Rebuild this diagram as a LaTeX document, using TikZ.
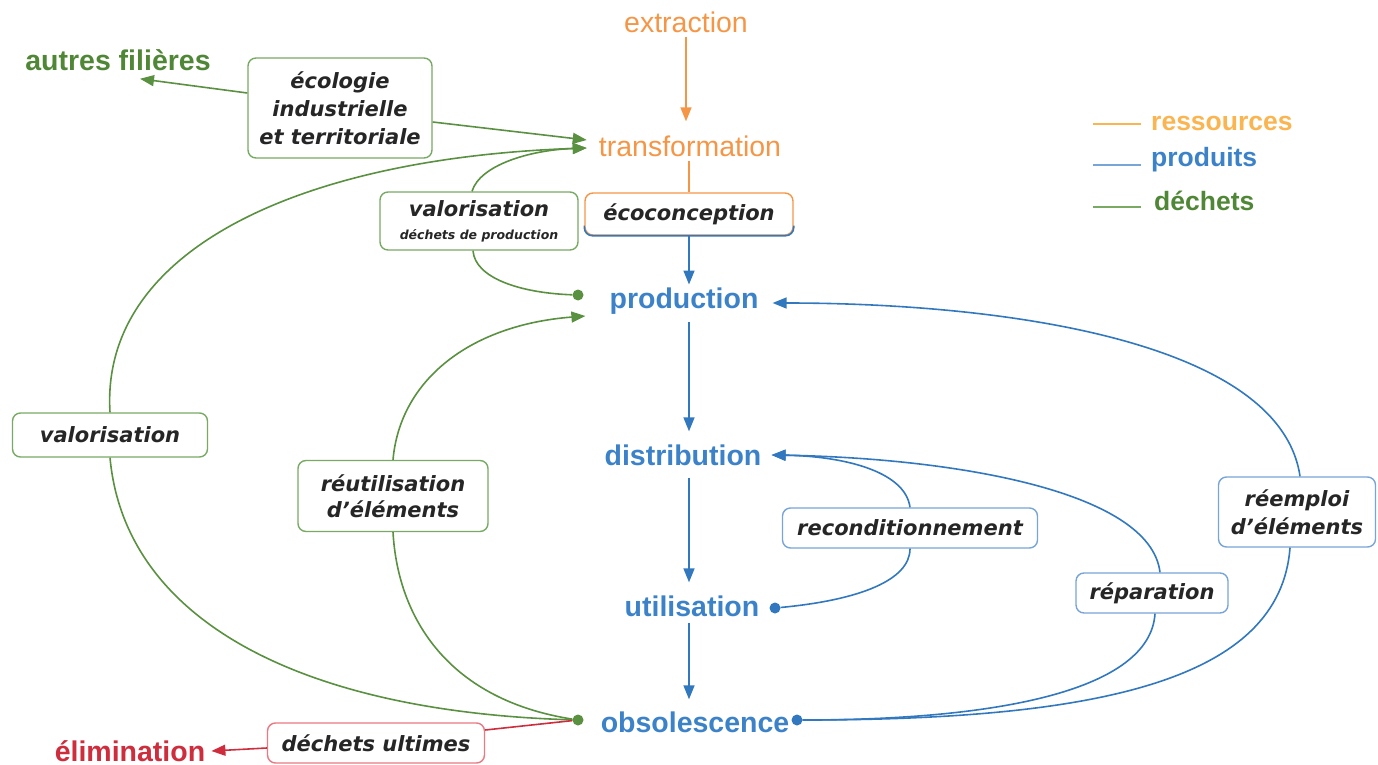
\documentclass[tikz,border=0pt]{standalone}
\usepackage{fontspec}
\setmainfont{Liberation Sans}
\newfontfamily\boxf{DejaVu Sans}
\usetikzlibrary{arrows.meta,calc}
\definecolor{orng}{RGB}{245,150,70}
\definecolor{ressc}{RGB}{250,180,80}
\definecolor{blu}{RGB}{50,120,190}
\definecolor{blutxt}{RGB}{60,130,200}
\definecolor{blubox}{RGB}{120,165,215}
\definecolor{grn}{RGB}{90,145,65}
\definecolor{grntxt}{RGB}{80,135,55}
\definecolor{grnbox}{RGB}{120,170,100}
\definecolor{redc}{RGB}{205,45,60}
\definecolor{redbox}{RGB}{235,120,130}
\begin{document}
\begin{tikzpicture}[x=1pt,y=-1pt,
  lab/.style={inner sep=0pt, font=\fontsize{28.5}{30}\selectfont},
  labb/.style={inner sep=0pt, font=\fontsize{28.5}{30}\selectfont\bfseries},
  leg/.style={inner sep=0pt, anchor=west, font=\fontsize{26.5}{28}\selectfont\bfseries},
  box/.style={draw, rounded corners=8pt, fill=white, line width=1.4pt, align=center, inner sep=0pt, font=\boxf\bfseries\itshape\fontsize{21}{28}\selectfont, text=black!85},
  con/.style={line width=1.6pt},
  tip/.style={-{Triangle[length=14pt,width=11pt]}},
  dot/.style={circle, inner sep=0pt, minimum size=11pt},
]
\useasboundingbox (0,0) rectangle (1378,765);
% main labels
\node[lab, text=orng] (ext) at (686,22) {extraction};
\node[lab, text=orng] (trans) at (690,146) {transformation};
\node[labb, text=blutxt] (prod) at (684,301) {production};
\node[labb, text=blutxt] (dist) at (683,455) {distribution};
\node[labb, text=blutxt] (util) at (692,606) {utilisation};
\node[labb, text=blutxt] (obs) at (695,722) {obsolescence};
\node[labb, text=grntxt] (autres) at (118,60) {autres filières};
\node[labb, text=redc] (elim) at (130,751) {élimination};
% boxes
\node[box, draw=orng, minimum width=208pt, minimum height=42pt] (ecoc) at (689,214) {écoconception};
\node[box, draw=grnbox, minimum width=184pt, minimum height=100pt] (eco) at (340,108) {écologie\\industrielle\\et territoriale};
\node[box, draw=grnbox, minimum width=198pt, minimum height=58pt] (vdp) at (479,221) {valorisation\\[-5pt]{\fontsize{12.5}{14}\selectfont déchets de production}};
\node[box, draw=grnbox, minimum width=195pt, minimum height=44pt] (valo) at (110,435) {valorisation};
\node[box, draw=grnbox, minimum width=190pt, minimum height=71pt, font=\boxf\bfseries\itshape\fontsize{21}{26}\selectfont] (reut) at (393,496) {réutilisation\\d’éléments};
\node[box, draw=blubox, minimum width=255pt, minimum height=40pt] (recon) at (910,528) {reconditionnement};
\node[box, draw=blubox, minimum width=152pt, minimum height=40pt] (repa) at (1152,593) {réparation};
\node[box, draw=blubox, minimum width=157pt, minimum height=70pt] (reem) at (1297,512) {réemploi\\d’éléments};
\node[box, draw=redbox, minimum width=217pt, minimum height=40pt] (ult) at (376,743) {déchets ultimes};
\draw[blu, line width=1.6pt, rounded corners=8pt] ($(ecoc.south west)+(0,-10)$) |- (ecoc.south east) -- ++(0,-10);
% dots
\node[dot, fill=grn] (gd1) at (578,295) {};
\node[dot, fill=grn] (gd2) at (578,720) {};
\node[dot, fill=blu] (bd1) at (775,608) {};
\node[dot, fill=blu] (bd2) at (797,720) {};
% orange
\draw[con, orng, tip, shorten <=4pt, shorten >=14pt] (ext.south) -- (ext.south |- trans.north);
\draw[con, orng, shorten <=4pt] (trans.south -| ecoc.north) -- (ecoc.north);
% blue column
\draw[con, blu, tip, shorten >=3pt] (ecoc.south) -- (ecoc.south |- prod.north);
\draw[con, blu, tip, shorten <=8pt, shorten >=13pt] (prod.south -| ecoc.south) -- (dist.north -| ecoc.south);
\draw[con, blu, tip, shorten <=12pt, shorten >=13pt] (dist.south -| ecoc.south) -- (util.north -| ecoc.south);
\draw[con, blu, tip, shorten <=6pt, shorten >=12pt] (util.south -| ecoc.south) -- (obs.north -| ecoc.south);
% green
\draw[con, grn, tip] ($(eco.east)+(0,14)$) -- ($(trans.west)+(-12,-6)$);
\draw[con, grn, tip] ($(eco.west)+(0,-15)$) -- ($(autres.south)+(22,8)$);
\draw[con, grn] (gd2) .. controls (300,712) and (125,620) .. (valo.south);
\draw[con, grn, tip] (valo.north) .. controls (100,250) and (300,158) .. ($(trans.west)+(-12,2)$);
\draw[con, grn] (gd1) .. controls (520,293) and (475,278) .. ($(vdp.south)+(-6,0)$);
\draw[con, grn, tip] ($(vdp.north)+(-7,0)$) .. controls (480,165) and (530,150) .. ($(trans.west)+(-12,2)$);
\draw[con, grn] (gd2) .. controls (450,700) and (398,620) .. (reut.south);
\draw[con, grn, tip] (reut.north) .. controls (400,380) and (470,325) .. ($(prod.west)+(-24,15)$);
% blue loops
\draw[con, blu] (bd1) .. controls (860,600) and (910,580) .. (recon.south);
\draw[con, blu, tip] (recon.north) .. controls (905,470) and (840,456) .. ($(dist.east)+(10,0)$);
\draw[con, blu] (bd2) .. controls (1000,720) and (1150,690) .. ($(repa.south)+(3,0)$);
\draw[con, blu, tip] ($(repa.north)+(8,0)$) .. controls (1150,490) and (950,458) .. ($(dist.east)+(10,0)$);
\draw[con, blu] (bd2) .. controls (1100,720) and (1280,680) .. ($(reem.south)+(-7,0)$);
\draw[con, blu, tip] ($(reem.north)+(3,0)$) .. controls (1280,340) and (1000,303) .. ($(prod.east)+(14,2)$);
% red
\draw[con, redc] (gd2) -- ($(ult.east)+(0,-13)$);
\draw[con, redc, tip] ($(ult.west)+(0,5)$) -- ($(elim.east)+(6,0)$);
% legend
\node[leg, text=ressc] (lr) at (1151,123) {ressources};
\node[leg, text=blutxt] (lp) at (1151,160) {produits};
\node[leg, text=grntxt] (ld) at (1154,201) {déchets};
\draw[con, ressc] ($(lr.west)+(-58,1)$) -- ($(lr.west)+(-10,1)$);
\draw[con, blubox] ($(lp.west)+(-58,5)$) -- ($(lp.west)+(-10,5)$);
\draw[con, grnbox] ($(ld.west)+(-61,6)$) -- ($(ld.west)+(-13,6)$);
\end{tikzpicture}
\end{document}
